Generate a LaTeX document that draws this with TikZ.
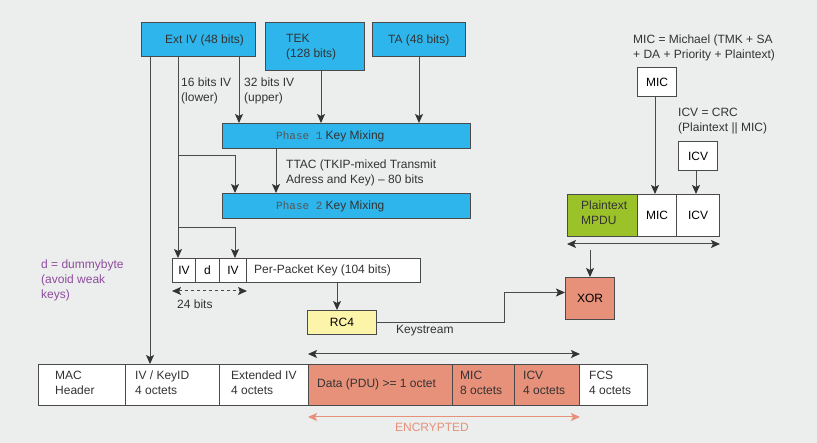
\documentclass[tikz,border=0pt]{standalone}
\usepackage{fontspec}
\setmainfont{Liberation Sans}
\newfontfamily\monofont{Liberation Mono}
\usetikzlibrary{arrows.meta}
\definecolor{bg}{HTML}{ECEDED}
\definecolor{linec}{HTML}{4A4A4A}
\definecolor{tipc}{HTML}{333333}
\definecolor{blue1}{HTML}{2EB5EB}
\definecolor{salmon}{HTML}{E8917A}
\definecolor{green1}{HTML}{9CC22A}
\definecolor{yellow1}{HTML}{FBF4A9}
\definecolor{purple1}{HTML}{8E4C9E}
\definecolor{txtc}{HTML}{333333}
\definecolor{monoc}{HTML}{555555}
\begin{document}
\begin{tikzpicture}[x=1pt,y=-1pt,
  font=\fontsize{12}{15}\selectfont,
  box/.style={draw=linec,line width=1pt,inner sep=0pt,anchor=north west},
  bluebox/.style={box,fill=blue1},
  whitebox/.style={box,fill=white},
  salbox/.style={box,fill=salmon},
  lbl/.style={inner sep=0pt,text=txtc,align=left,anchor=west},
  clbl/.style={inner sep=0pt,text=txtc,align=center},
  arr/.style={draw=linec,line width=1pt,-{Stealth[length=9pt,width=8pt,inset=2pt,color=tipc]}},
  darr/.style={draw=linec,line width=1pt,{Stealth[length=9pt,width=8pt,inset=2pt,color=tipc]}-{Stealth[length=9pt,width=8pt,inset=2pt,color=tipc]}},
  encarr/.style={draw=salmon,line width=1pt,{Stealth[length=9pt,width=8pt,inset=2pt]}-{Stealth[length=9pt,width=8pt,inset=2pt]}}]
\fill[bg] (0,0) rectangle (817,443);
\useasboundingbox (0,0) rectangle (817,443);

% top boxes
\node[bluebox,minimum width=114pt,minimum height=34pt] (extiv) at (141,22) {};
\node[bluebox,minimum width=99pt,minimum height=48pt] (tek) at (265,22) {};
\node[bluebox,minimum width=93pt,minimum height=34pt] (ta) at (372,22) {};
\node[lbl] (extivt) at (165,40) {Ext IV (48 bits)};
\node[lbl] (tekt) at (286,47) {TEK\\(128 bits)};
\node[lbl] (tat) at (388,40) {TA (48 bits)};

% phase boxes
\node[bluebox,minimum width=248pt,minimum height=25pt] (ph1) at (222,123) {};
\node[bluebox,minimum width=248pt,minimum height=25pt] (ph2) at (222,193) {};
\node[lbl] (ph1t) at (276,136) {{\monofont\fontsize{11}{13}\selectfont\color{monoc}Phase 1} Key Mixing};
\node[lbl] (ph2t) at (276,206) {{\monofont\fontsize{11}{13}\selectfont\color{monoc}Phase 2} Key Mixing};

\node[lbl] (l16) at (181,91) {16 bits IV\\(lower)};
\node[lbl] (l32) at (244,91) {32 bits IV\\(upper)};
\node[lbl] (ttac) at (286,173) {TTAC (TKIP-mixed Transmit\\Adress and Key) -- 80 bits};

% per-packet key row
\node[whitebox,minimum width=23pt,minimum height=24pt] (iv1) at (172,258) {IV};
\node[whitebox,minimum width=24pt,minimum height=24pt] (dd) at (195,258) {d};
\node[whitebox,minimum width=27pt,minimum height=24pt] (iv2) at (219,258) {IV};
\node[whitebox,minimum width=174pt,minimum height=24pt] (ppk) at (246,258) {};
\node[lbl] (ppkt) at (254,270) {Per-Packet Key (104 bits)};
\node[lbl] (b24) at (177,304) {24 bits};
\node[lbl,text=purple1] (dummy) at (41,280) {d = dummybyte\\(avoid weak\\keys)};

% rc4, xor
\node[box,fill=yellow1,minimum width=69pt,minimum height=24pt] (rc4) at (307,310) {RC4};
\node[salbox,minimum width=49pt,minimum height=42pt] (xor) at (565,277) {XOR};
\node[lbl] (ks) at (396,331) {Keystream};

% right panel
\node[lbl] (mict) at (633,48) {MIC = Michael (TMK + SA\\+ DA + Priority + Plaintext)};
\node[whitebox,minimum width=39pt,minimum height=29pt] (mic1) at (637,67) {MIC};
\node[lbl] (icvt) at (678,121) {ICV = CRC\\(Plaintext || MIC)};
\node[whitebox,minimum width=39pt,minimum height=29pt] (icv1) at (678,141) {ICV};
\node[box,fill=green1,minimum width=70pt,minimum height=42pt] (mpdu) at (567,194) {};
\node[lbl] (mpdut) at (581,213) {Plaintext\\MPDU};
\node[whitebox,minimum width=39pt,minimum height=42pt] (mic2) at (637,194) {MIC};
\node[whitebox,minimum width=43pt,minimum height=42pt] (icv2) at (676,194) {ICV};

% bottom row
\node[whitebox,minimum width=87pt,minimum height=41pt] (mac) at (38,364) {};
\node[whitebox,minimum width=94pt,minimum height=41pt] (ivk) at (125,364) {};
\node[whitebox,minimum width=89pt,minimum height=41pt] (ext) at (219,364) {};
\node[salbox,minimum width=144pt,minimum height=41pt] (data) at (308,364) {};
\node[salbox,minimum width=62pt,minimum height=41pt] (mic3) at (452,364) {};
\node[salbox,minimum width=65pt,minimum height=41pt] (icv3) at (514,364) {};
\node[whitebox,minimum width=68pt,minimum height=41pt] (fcs) at (579,364) {};
\node[lbl] (mact) at (55,383) {MAC\\Header};
\node[lbl] (ivkt) at (135,383) {IV / KeyID\\4 octets};
\node[lbl] (extt) at (231,383) {Extended IV\\4 octets};
\node[lbl] (datat) at (317,384) {Data (PDU) >= 1 octet};
\node[lbl] (mic3t) at (460,383) {MIC\\8 octets};
\node[lbl] (icv3t) at (523,383) {ICV\\4 octets};
\node[lbl] (fcst) at (589,383) {FCS\\4 octets};
\node[clbl,text=salmon] (enc) at (432,427) {ENCRYPTED};

% connectors from Ext IV
\draw[arr] ([xshift=9pt]extiv.south west) -- ([xshift=9pt]extiv.south west |- ivk.north);
\draw[arr] ([xshift=37pt]extiv.south west) -- ([xshift=37pt]extiv.south west |- iv1.north);
\coordinate (b1) at (178,156);
\coordinate (b2) at (178,228);
\draw[arr] (b1) -| ([xshift=13pt]ph2.north west);
\draw[arr] (b2) -| ([xshift=16pt]iv2.north west);
\draw[arr] ([xshift=98pt]extiv.south west) -- ([xshift=98pt]extiv.south west |- ph1.north);
\draw[arr] ([xshift=56pt]tek.south west) -- ([xshift=56pt]tek.south west |- ph1.north);
\draw[arr] (ta.south) -- (ta.south |- ph1.north);
\draw[arr] ([xshift=54pt]ph1.south west) -- ([xshift=54pt]ph1.south west |- ph2.north);

% per-packet key connectors
\draw[darr,dashed] ([yshift=-8pt]iv1.south west) -- ([yshift=-8pt]iv2.south east);
\draw[arr] ([xshift=30pt]rc4.north west |- ppk.south) -- ([xshift=30pt]rc4.north west);
\draw[arr] (rc4.east) -- ++(127,0) |- ([yshift=6pt]xor.west);

% right panel connectors
\draw[arr] ([xshift=-2pt]mic1.south) -- ([xshift=-2pt]mic1.south |- mic2.north);
\draw[arr] ([xshift=-2pt]icv1.south) -- ([xshift=-2pt]icv1.south |- icv2.north);
\draw[darr] ([yshift=-7pt]mpdu.south west) -- ([yshift=-7pt]icv2.south east);
\coordinate (xs) at (589,250);
\draw[arr] (xor.north |- xs) -- (xor.north);

% bottom arrows
\draw[darr] ([yshift=10pt]data.north west) -- ([yshift=10pt]icv3.north east);
\draw[encarr] ([yshift=-11pt]data.south west) -- ([yshift=-11pt]icv3.south east);
\end{tikzpicture}
\end{document}
